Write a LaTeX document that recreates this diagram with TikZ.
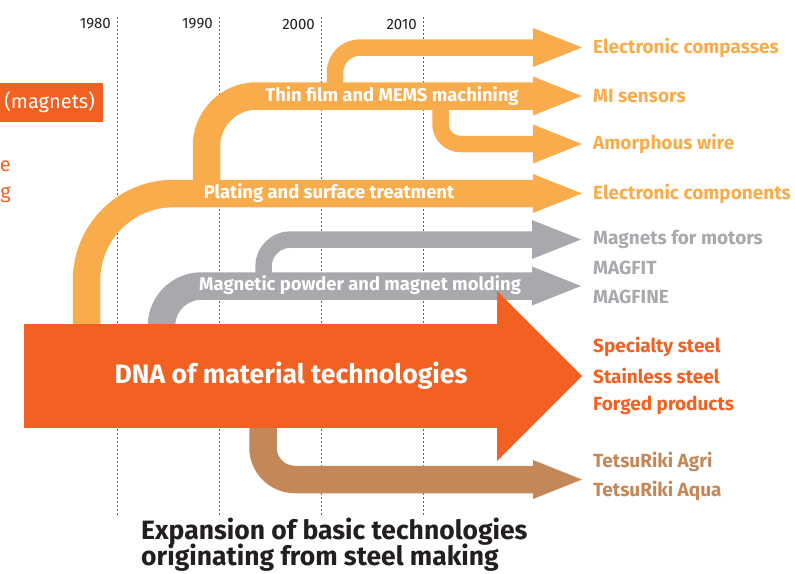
\documentclass[tikz,border=0pt]{standalone}
\usepackage{fontspec}
\setmainfont{Fira Sans}
\usetikzlibrary{arrows.meta}

\definecolor{dnaorange}{HTML}{F26122}
\definecolor{techorange}{HTML}{F9AC4B}
\definecolor{techgray}{HTML}{A7A9AC}
\definecolor{techbrown}{HTML}{C48758}
\definecolor{inkblack}{HTML}{231F20}

\tikzset{
  band/.style={line width=27.5pt, rounded corners=#1,
    -{Triangle[length=49pt, width=39pt, line width=0pt]}},
  branch/.style={line width=16.5pt, rounded corners=#1,
    -{Triangle[length=49pt, width=39pt, line width=0pt]}},
  bandtext/.style={text=white, inner sep=0pt, font=\fontsize{18.4}{18.4}\selectfont\bfseries},
  product/.style={anchor=west, inner sep=0pt, font=\fontsize{19}{19}\selectfont\bfseries},
  year/.style={anchor=east, inner sep=0pt, text=inkblack, font=\fontsize{15}{15}\selectfont}
}

\begin{document}
\begin{tikzpicture}[x=1pt, y=-1pt]
        \clip (0,0) rectangle (795,573);

        % Decennies
        \foreach \x/\an in {117/1980, 219/1990, 321/2000, 423/2010} {
            \draw [inkblack!70, line width=0.8pt, dash pattern=on 2pt off 2pt] (\x, 17) -- (\x, 515);
            \node [year] (y\an) at (\x-6, 24) {\an};
        }

        % Reste de la page (coupe a gauche)
        \node [fill=dnaorange, text=white, anchor=east, text width=110pt, align=right,
               minimum height=39pt, inner xsep=8pt, font=\fontsize{20}{20}\selectfont]
               (magnets) at (103, 102.5) {(magnets)};
        \node [text=dnaorange, anchor=east, inner sep=0pt, font=\fontsize{20}{20}\selectfont] (bite) at (11, 166) {e};
        \node [text=dnaorange, anchor=east, inner sep=0pt, font=\fontsize{20}{20}\selectfont] (bits) at (11, 195) {g};

        % Produits (droite)
        \node [product, text=techorange] (compasses) at (593, 47.5) {Electronic compasses};
        \node [product, text=techorange] (mi) at (593, 96) {MI sensors};
        \node [product, text=techorange] (wire) at (593, 144) {Amorphous wire};
        \node [product, text=techorange] (components) at (593, 193.5) {Electronic components};
        \node [product, text=techgray] (motors) at (593, 239.5) {Magnets for motors};
        \node [product, text=techgray] (magfit) at (593, 268) {MAGFIT};
        \node [product, text=techgray] (magfine) at (593, 297) {MAGFINE};
        \node [product, text=dnaorange] (specialty) at (593, 347) {Specialty steel};
        \node [product, text=dnaorange] (stainless) at (593, 376) {Stainless steel};
        \node [product, text=dnaorange] (forged) at (593, 405) {Forged products};
        \node [product, text=techbrown] (agri) at (593, 462) {TetsuRiki Agri};
        \node [product, text=techbrown] (aqua) at (593, 491) {TetsuRiki Aqua};

        % Points de depart et pointes
        \coordinate (platingfoot) at (86.5, 340);
        \coordinate (thinfoot) at (206.5, 193.5);
        \coordinate (compassfoot) at (335, 96);
        \coordinate (wirefoot) at (440.5, 96);
        \coordinate (magnetfoot) at (161.5, 345);
        \coordinate (motorfoot) at (263.5, 285.5);
        \coordinate (agrifoot) at (263, 410);
        \coordinate (magnettip) at (581, 286);
        \coordinate (agritip) at (582, 479.5);

        % Branches fines
        \draw [techorange, branch=25pt] (compassfoot) |- ([xshift=-11pt]compasses.west);
        \draw [techorange, branch=20pt] (wirefoot) |- ([xshift=-11pt]wire.west);
        \draw [techgray, branch=27pt] (motorfoot) |- ([xshift=-12pt]motors.west);

        % Bandes principales
        \draw [techorange, band=50pt] (thinfoot) |- ([xshift=-11pt]mi.west);
        \node [bandtext] (thin) at (392, 96) {Thin film and MEMS machining};
        \draw [techorange, band=87pt] (platingfoot) |- ([xshift=-11pt]components.west);
        \node [bandtext] (plating) at (329, 193.5) {Plating and surface treatment};
        \draw [techgray, band=40pt] (magnetfoot) |- (magnettip);
        \node [bandtext] (magnetic) at (360, 285.5) {Magnetic powder and magnet molding};
        \draw [techbrown, band=32pt] (agrifoot) |- (agritip);

        % Fleche principale
        \draw [dnaorange, line width=104pt, -{Triangle[length=85pt, width=170pt, line width=0pt]}]
            (24, 376) -- ([xshift=-11pt]stainless.west);
        \node [text=white, font=\fontsize{26.6}{26.6}\selectfont\bfseries] (dna) at (291, 376) {DNA of material technologies};

        % Titre
        \node [anchor=base west, inner sep=0pt, text=inkblack, font=\fontsize{26.5}{26.5}\selectfont\bfseries]
            (title) at (141, 539) {Expansion of basic technologies};
        \node [anchor=base west, inner sep=0pt, text=inkblack, font=\fontsize{26.5}{26.5}\selectfont\bfseries]
            (subtitle) at (141, 565) {originating from steel making};
    \end{tikzpicture}
\end{document}
